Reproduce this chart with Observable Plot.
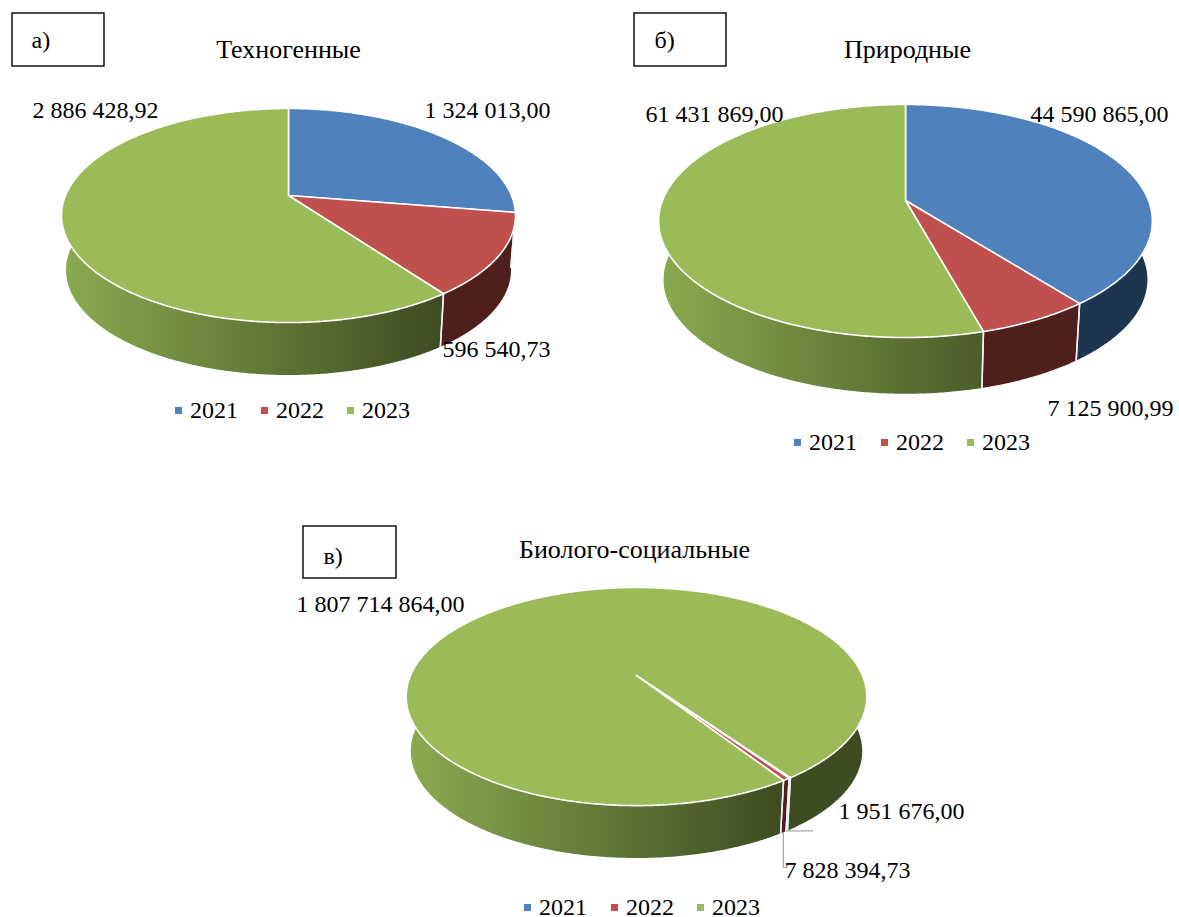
<!DOCTYPE html>
<html lang="ru">
<head>
<meta charset="utf-8">
<script src="https://cdn.jsdelivr.net/npm/d3@7"></script>
<script src="https://cdn.jsdelivr.net/npm/@observablehq/plot@0.6"></script>
<style>html,body{margin:0;padding:0;background:#fff}svg{display:block}</style>
</head>
<body>
<div id="chart"></div>
<script>
const years = ["2021", "2022", "2023"];
const technogenic = [1324013.00, 596540.73, 2886428.92];
const natural = [44590865.00, 7125900.99, 61431869.00];
const biosocial = [1951676.00, 7828394.73, 1807714864.00];
const panelTags = ["а)", "б)", "в)"];
const panelTitles = ["Техногенные", "Природные", "Биолого-социальные"];

const topColors = ["#4f81bd", "#c0504d", "#9bbb59"];
const wallColors = ["#1e3550", "#4f1f1c", null];

const W = 1179, H = 917;
const FONT = "'Liberation Serif', 'Times New Roman', serif";
const fmt = d3.formatLocale({decimal: ",", thousands: " ", grouping: [3], currency: ["", ""]}).format(",.2f");

// Layout of each panel (perspective ellipse, annotation anchors)
const panels = [
  {values: technogenic, cx: 288, cy: 195, A: 223, B: 103.3, k: 0.187, dy: 55, s: 0.98, rot: 0,
   grad: [61, 440], box: [12, 13, 104, 66], tag: [31, 40], title: [288, 49],
   labels: [[424, 110], [442, 349], [32, 110]], legendX: [174, 260, 346], legendY: 410},
  {values: natural, cx: 905, cy: 200, A: 243, B: 112.9, k: 0.176, dy: 59, s: 0.98, rot: 0,
   grad: [658, 1050], box: [634, 13, 726, 66], tag: [654, 40], title: [907, 49],
   labels: [[1030, 114], [1047, 408], [645, 114]], legendX: [793, 880, 966], legendY: 442},
  {values: biosocial, cx: 636, cy: 675, A: 226, B: 105, k: 0.193, dy: 55, s: 0.98, rot: 145,
   grad: [406, 780], box: [303, 526, 396, 578], tag: [323, 556], title: [634, 549],
   labels: [[838, 811], [784, 870], [296, 604]], legendX: [523, 610, 696], legendY: 907, leaders: true}
];

const rad = Math.PI / 180;
function rim(p, deg, lower) {
  const u = Math.sin(deg * rad), v = Math.cos(deg * rad), w = 1 + p.k * v;
  const s = lower ? p.s : 1;
  return [p.cx + s * p.A * u / w, p.cy + (lower ? p.dy : 0) - s * p.B * v / w];
}
function arcDegrees(a0, a1) {
  const n = Math.max(2, Math.ceil((a1 - a0) * 2));
  return d3.range(n + 1).map(i => a0 + (a1 - a0) * i / n);
}

const walls = [], tops = [], seams = [], leaders = [], texts = [], boxes = [], swatches = [];
panels.forEach((p, pi) => {
  const total = d3.sum(p.values);
  let a = p.rot;
  const spans = p.values.map(val => { const s = [a, a + val / total * 360]; a = s[1]; return s; });
  spans.forEach(([a0, a1], i) => {
    const arc = arcDegrees(a0, a1);
    const wallFill = wallColors[i] || `url(#wall${pi})`;
    const upper = arc.map(d => rim(p, d, false));
    const lower = arc.slice().reverse().map(d => rim(p, d, true));
    [...upper, ...lower, upper[0]].forEach(([x, y]) => walls.push({id: `${pi}-${i}`, x, y, fill: wallFill}));
    [[p.cx, p.cy], ...upper, [p.cx, p.cy]].forEach(([x, y]) => tops.push({id: `${pi}-${i}`, x, y, fill: topColors[i]}));
    // white seam on the visible (front) part of the wall
    if (Math.cos(a0 * rad) < 0) {
      [rim(p, a0, false), rim(p, a0, true)].forEach(([x, y]) => seams.push({id: `${pi}-${i}`, x, y}));
    }
    if (Math.cos(a1 * rad) < 0) {
      [rim(p, a1, false), rim(p, a1, true)].forEach(([x, y]) => seams.push({id: `${pi}-${i}e`, x, y}));
    }
    const [lx, ly] = p.labels[i];
    texts.push({text: fmt(p.values[i]), x: lx, y: ly, anchor: "start"});
    swatches.push({x: p.legendX[i], y: p.legendY, fill: topColors[i]});
    texts.push({text: years[i], x: p.legendX[i] + 15.5, y: p.legendY, anchor: "start"});
    if (p.leaders && i < 2) {
      const [bx, by] = rim(p, (a0 + a1) / 2, true);
      const pts = i === 0
        ? [[bx, by], [lx - 26, by]]
        : [[bx, by], [bx, ly - 3], [lx + 3, ly - 3]];
      pts.forEach(([x, y]) => leaders.push({id: `${pi}-${i}`, x, y}));
    }
  });
  boxes.push({x1: p.box[0], y1: p.box[1], x2: p.box[2], y2: p.box[3]});
  texts.push({text: panelTags[pi], x: p.tag[0], y: p.tag[1], anchor: "start"});
  texts.push({text: panelTitles[pi], x: p.title[0], y: p.title[1], anchor: "middle", title: true});
});

// Side-wall gradient definitions, positioned through the x scale
function gradients(index, {x}) {
  const defs = d3.create("svg:defs");
  panels.forEach((p, pi) => {
    const g = defs.append("linearGradient").attr("id", `wall${pi}`)
      .attr("gradientUnits", "userSpaceOnUse")
      .attr("x1", x(p.grad[0])).attr("x2", x(p.grad[1])).attr("y1", 0).attr("y2", 0);
    g.append("stop").attr("offset", "0%").attr("stop-color", "#8aab4f");
    g.append("stop").attr("offset", "100%").attr("stop-color", "#3d4c21");
  });
  return defs.node();
}

const ch = Plot.plot({
  width: W, height: H, margin: 0,
  style: {fontFamily: FONT, background: "#fff", color: "#000", overflow: "visible"},
  x: {domain: [0, W], range: [0, W], axis: null},
  y: {domain: [0, H], range: [0, H], axis: null},
  color: {type: "identity"},
  marks: [
    gradients,
    Plot.rect(boxes, {x1: "x1", y1: "y1", x2: "x2", y2: "y2", fill: "none", stroke: "#000", strokeWidth: 1.4}),
    Plot.line(walls, {x: "x", y: "y", z: "id", fill: "fill", stroke: "none"}),
    Plot.line(seams, {x: "x", y: "y", z: "id", stroke: "#f2f2f2", strokeWidth: 1.5}),
    Plot.line(tops, {x: "x", y: "y", z: "id", fill: "fill", stroke: "#fff", strokeWidth: 1.6, strokeLinejoin: "round"}),
    Plot.line(leaders, {x: "x", y: "y", z: "id", stroke: "#a6a6a6", strokeWidth: 1.2}),
    Plot.dot(swatches, {x: "x", y: "y", dx: 4, symbol: "square", r: 4, fill: "fill", stroke: "none"}),
    Plot.text(texts.filter(d => !d.title), {x: "x", y: "y", text: "text", textAnchor: "start", lineAnchor: "middle", fontSize: 24, fill: "#000"}),
    Plot.text(texts.filter(d => d.title), {x: "x", y: "y", text: "text", textAnchor: "middle", lineAnchor: "middle", fontSize: 26, fill: "#000"})
  ]
});
document.getElementById("chart").append(ch);
</script>
</body>
</html>
